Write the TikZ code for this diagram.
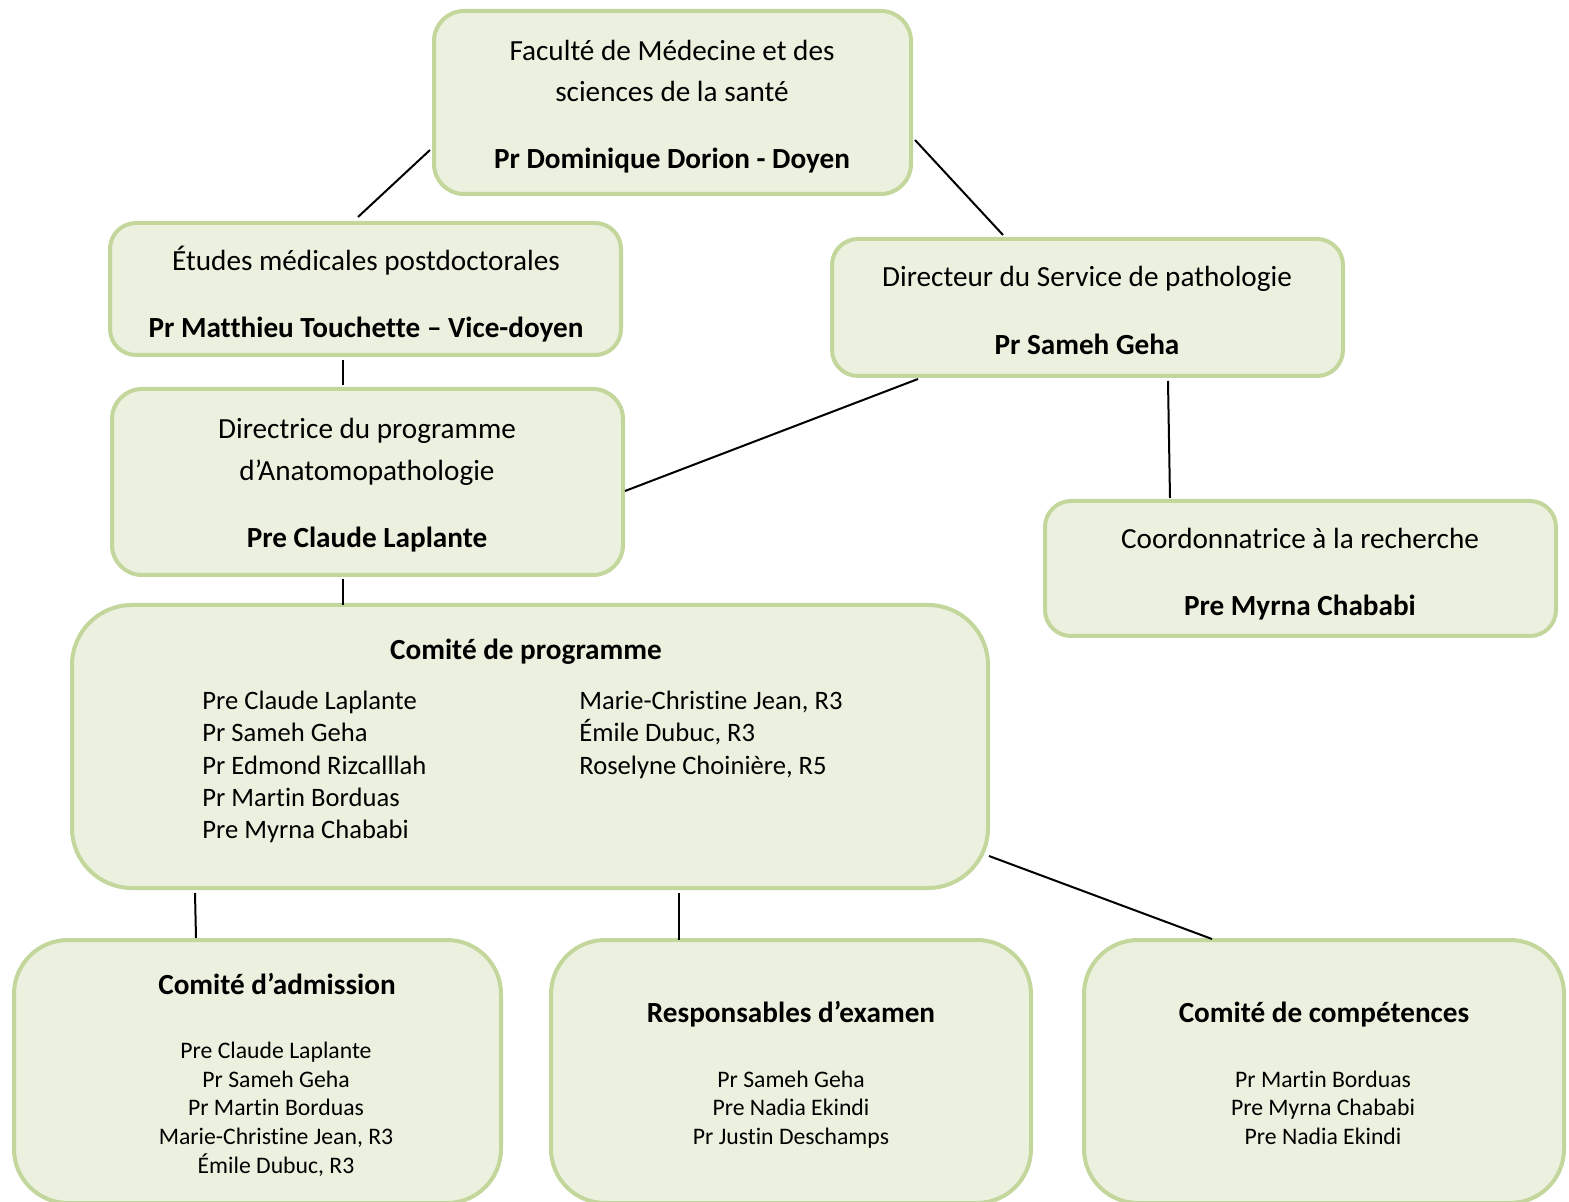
\documentclass[tikz,border=0pt]{standalone}
\usepackage{fontspec}
\setmainfont{Carlito}[Ligatures=NoCommon]
\usetikzlibrary{fit}
\definecolor{boxfill}{HTML}{EBF1DE}
\definecolor{boxline}{HTML}{C3D69B}
\tikzset{
  orgbox/.style={draw=boxline, fill=boxfill, line width=2pt, inner sep=0pt, rounded corners=#1},
  txtbig/.style={font=\fontsize{14.6pt}{17pt}\selectfont, inner sep=0pt, anchor=base, yshift=-0.75pt},
  txtbold/.style={font=\fontsize{14.6pt}{17pt}\selectfont\bfseries, inner sep=0pt, anchor=base, yshift=-0.75pt},
  txtmid/.style={font=\fontsize{13.3pt}{16pt}\selectfont, inner sep=0pt, anchor=base west, yshift=-0.75pt},
  txtsmall/.style={font=\fontsize{11.85pt}{14pt}\selectfont, inner sep=0pt, anchor=base, yshift=-0.5pt},
  link/.style={line width=1pt, black},
}
\begin{document}
\begin{tikzpicture}[x=0.5pt, y=-0.5pt]
\useasboundingbox (0,0) rectangle (1569,1202);
% boxes
\node[orgbox=15pt, fit={(434,11) (911,194)}] (fac) {};
\node[orgbox=13pt, fit={(110,223) (621,355)}] (etu) {};
\node[orgbox=13pt, fit={(832,239) (1343,376)}] (dir) {};
\node[orgbox=15pt, fit={(112,389) (623,575)}] (prog) {};
\node[orgbox=13pt, fit={(1045,501) (1556,636)}] (coord) {};
\node[orgbox=30pt, fit={(72,605) (988,888)}] (comite) {};
\node[orgbox=27pt, fit={(14,940) (501,1203)}] (adm) {};
\node[orgbox=27pt, fit={(551,940) (1031,1203)}] (exam) {};
\node[orgbox=27pt, fit={(1084,940) (1564,1203)}] (comp) {};
% texts
\node[txtbig] (fac1) at (672,59) {Faculté de Médecine et des};
\node[txtbig] (fac2) at (672,100) {sciences de la santé};
\node[txtbold] (fac3) at (672,167) {Pr Dominique Dorion - Doyen};
\node[txtbig] (etu1) at (366,269) {Études médicales postdoctorales};
\node[txtbold] (etu2) at (366,336) {Pr Matthieu Touchette – Vice-doyen};
\node[txtbig] (dir1) at (1087,285) {Directeur du Service de pathologie};
\node[txtbold] (dir2) at (1087,353) {Pr Sameh Geha};
\node[txtbig] (prog1) at (367,437) {Directrice du programme};
\node[txtbig] (prog2) at (367,479) {d’Anatomopathologie};
\node[txtbold] (prog3) at (367,546) {Pre Claude Laplante};
\node[txtbig] (coord1) at (1300,547) {Coordonnatrice à la recherche};
\node[txtbold] (coord2) at (1300,614) {Pre Myrna Chababi};
\node[txtbold] (com0) at (526,658) {Comité de programme};
\node[txtmid] (com1) at (202,708) {Pre Claude Laplante};
\node[txtmid] (com2) at (202,740) {Pr Sameh Geha};
\node[txtmid] (com3) at (202,773) {Pr Edmond Rizcalllah};
\node[txtmid] (com4) at (202,805) {Pr Martin Borduas};
\node[txtmid] (com5) at (202,837) {Pre Myrna Chababi};
\node[txtmid] (com6) at (579,708) {Marie-Christine Jean, R3};
\node[txtmid] (com7) at (579,740) {Émile Dubuc, R3};
\node[txtmid] (com8) at (579,773) {Roselyne Choinière, R5};
\node[txtbold] (adm0) at (277,993) {Comité d’admission};
\node[txtsmall] (adm1) at (276,1057) {Pre Claude Laplante};
\node[txtsmall] (adm2) at (276,1086) {Pr Sameh Geha};
\node[txtsmall] (adm3) at (276,1114) {Pr Martin Borduas};
\node[txtsmall] (adm4) at (276,1143) {Marie-Christine Jean, R3};
\node[txtsmall] (adm5) at (276,1172) {Émile Dubuc, R3};
\node[txtbold] (exam0) at (791,1021) {Responsables d’examen};
\node[txtsmall] (exam1) at (791,1086) {Pr Sameh Geha};
\node[txtsmall] (exam2) at (791,1114) {Pre Nadia Ekindi};
\node[txtsmall] (exam3) at (791,1143) {Pr Justin Deschamps};
\node[txtbold] (comp0) at (1324,1021) {Comité de compétences};
\node[txtsmall] (comp1) at (1323,1086) {Pr Martin Borduas};
\node[txtsmall] (comp2) at (1323,1114) {Pre Myrna Chababi};
\node[txtsmall] (comp3) at (1323,1143) {Pre Nadia Ekindi};
% connector ends
\coordinate (facL) at (430,150);
\coordinate (etuT) at (358,217);
\coordinate (facR) at (915,140);
\coordinate (dirT) at (1003,235);
\coordinate (etuB) at (343,360);
\coordinate (progT) at (343,385);
\coordinate (dirBL) at (918,379);
\coordinate (progR) at (625,491);
\coordinate (dirBR) at (1168,381);
\coordinate (coordT) at (1170,498);
\coordinate (progB) at (343,579);
\coordinate (comT) at (343,605);
\coordinate (comBL) at (195,893);
\coordinate (admT) at (196,938);
\coordinate (comBM) at (679,893);
\coordinate (examT) at (679,940);
\coordinate (comR) at (989,856);
\coordinate (compT) at (1212,939);
% connectors
\draw[link] (facL) -- (etuT);
\draw[link] (facR) -- (dirT);
\draw[link] (etuB) -- (progT);
\draw[link] (dirBL) -- (progR);
\draw[link] (dirBR) -- (coordT);
\draw[link] (progB) -- (comT);
\draw[link] (comBL) -- (admT);
\draw[link] (comBM) -- (examT);
\draw[link] (comR) -- (compT);
\end{tikzpicture}
\end{document}
